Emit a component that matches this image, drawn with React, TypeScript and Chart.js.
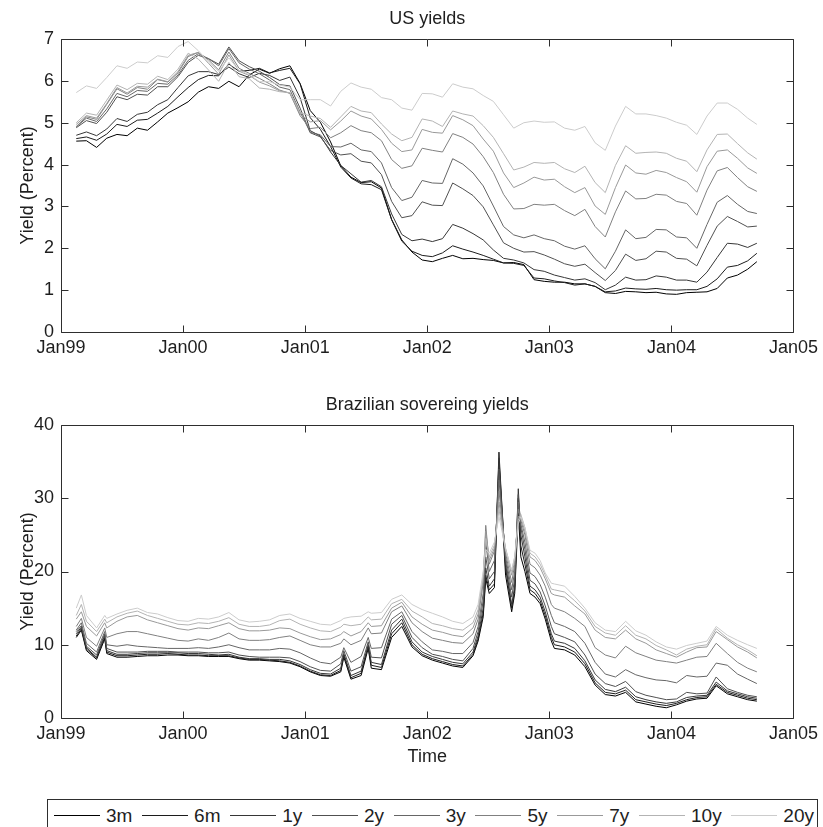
import React, { useEffect, useRef } from 'react';
import { Chart, registerables } from 'chart.js';

Chart.register(...registerables);

// ---------- labels / styling data ----------
const seriesNames = ['3m', '6m', '1y', '2y', '3y', '5y', '7y', '10y', '20y'];
const seriesColors = ['#000000', '#1c1c1c', '#363636', '#505050', '#666666', '#808080', '#999999', '#b3b3b3', '#cccccc'];
const xTickYears = [1999, 2000, 2001, 2002, 2003, 2004, 2005];
const xTickLabels = ['Jan99', 'Jan00', 'Jan01', 'Jan02', 'Jan03', 'Jan04', 'Jan05'];
const usTitle = 'US yields';
const brTitle = 'Brazilian sovereing yields';
const yAxisLabel = 'Yield (Percent)';
const xAxisLabel = 'Time';

// ---------- US yields: mid-month, Feb 1999 .. Sep 2004 (months since Jan 1999) ----------
const usMonths: number[] = [];
for (let m = 1.5; m < 68; m += 1) usMonths.push(m);
usMonths.push(68.4);

const us3m = [4.56, 4.57, 4.41, 4.63, 4.72, 4.69, 4.87, 4.82, 5.02, 5.23, 5.36,
  5.50, 5.73, 5.86, 5.82, 5.99, 5.86, 6.14, 6.28, 6.18, 6.29, 6.36, 5.94,
  5.29, 5.01, 4.54, 3.97, 3.70, 3.57, 3.59, 3.44, 2.69, 2.20, 1.91, 1.72,
  1.68, 1.76, 1.83, 1.75, 1.76, 1.73, 1.71, 1.65, 1.66, 1.61, 1.25, 1.21,
  1.19, 1.19, 1.15, 1.15, 1.09, 0.94, 0.92, 0.97, 0.96, 0.94, 0.95, 0.91,
  0.90, 0.94, 0.95, 0.96, 1.04, 1.29, 1.36, 1.50, 1.68];
const us6m = [4.62, 4.66, 4.58, 4.73, 4.96, 4.91, 5.06, 5.08, 5.23, 5.39, 5.62,
  5.84, 6.03, 6.13, 6.12, 6.40, 6.23, 6.25, 6.30, 6.19, 6.25, 6.30, 5.93,
  5.12, 4.84, 4.43, 3.94, 3.68, 3.54, 3.52, 3.40, 2.68, 2.17, 1.93, 1.83,
  1.80, 1.89, 2.06, 1.98, 1.91, 1.83, 1.74, 1.65, 1.64, 1.59, 1.29, 1.27,
  1.22, 1.18, 1.12, 1.15, 1.09, 0.96, 0.98, 1.05, 1.03, 1.02, 1.04, 1.01,
  1.00, 1.01, 1.01, 1.09, 1.27, 1.55, 1.59, 1.70, 1.88];
const us1y = [4.70, 4.78, 4.69, 4.85, 5.10, 5.03, 5.20, 5.25, 5.43, 5.55, 5.84,
  6.12, 6.22, 6.22, 6.15, 6.33, 6.17, 6.08, 6.18, 6.13, 6.01, 6.09, 5.60,
  4.81, 4.68, 4.30, 3.98, 3.78, 3.58, 3.62, 3.47, 2.82, 2.33, 2.18, 2.22,
  2.16, 2.23, 2.57, 2.48, 2.35, 2.20, 1.96, 1.76, 1.72, 1.65, 1.49, 1.45,
  1.36, 1.30, 1.24, 1.27, 1.18, 1.01, 1.12, 1.31, 1.24, 1.25, 1.34, 1.31,
  1.24, 1.24, 1.19, 1.43, 1.78, 2.12, 2.10, 2.02, 2.12];
const us2y = [4.88, 5.05, 4.98, 5.25, 5.62, 5.55, 5.68, 5.66, 5.86, 5.86, 6.10,
  6.44, 6.61, 6.53, 6.40, 6.81, 6.48, 6.34, 6.23, 6.08, 5.91, 5.88, 5.35,
  4.76, 4.66, 4.34, 4.23, 4.26, 4.08, 4.04, 3.76, 3.12, 2.73, 2.78, 3.11,
  3.03, 3.02, 3.56, 3.42, 3.26, 2.99, 2.56, 2.13, 2.00, 1.91, 1.92, 1.84,
  1.74, 1.63, 1.57, 1.62, 1.42, 1.23, 1.47, 1.86, 1.71, 1.75, 1.93, 1.91,
  1.76, 1.74, 1.58, 2.07, 2.53, 2.76, 2.64, 2.51, 2.53];
const us3y = [4.90, 5.11, 5.03, 5.33, 5.70, 5.62, 5.77, 5.75, 5.94, 5.92, 6.14,
  6.49, 6.65, 6.53, 6.36, 6.77, 6.43, 6.28, 6.17, 6.02, 5.85, 5.79, 5.26,
  4.77, 4.71, 4.43, 4.42, 4.51, 4.35, 4.31, 4.04, 3.45, 3.14, 3.22, 3.62,
  3.56, 3.55, 4.14, 4.01, 3.80, 3.49, 3.01, 2.52, 2.32, 2.25, 2.32, 2.23,
  2.18, 2.05, 1.98, 2.06, 1.75, 1.51, 1.93, 2.44, 2.23, 2.26, 2.45, 2.44,
  2.27, 2.25, 2.00, 2.57, 3.10, 3.26, 3.05, 2.88, 2.83];
const us5y = [4.91, 5.14, 5.08, 5.44, 5.81, 5.68, 5.84, 5.80, 6.03, 5.97, 6.19,
  6.58, 6.68, 6.50, 6.26, 6.69, 6.30, 6.18, 6.06, 5.93, 5.78, 5.70, 5.17,
  4.86, 4.89, 4.64, 4.76, 4.93, 4.81, 4.76, 4.57, 4.12, 3.91, 3.97, 4.39,
  4.34, 4.30, 4.74, 4.65, 4.49, 4.19, 3.81, 3.29, 2.94, 2.95, 3.05, 3.03,
  3.05, 2.90, 2.78, 2.93, 2.52, 2.27, 2.87, 3.37, 3.18, 3.19, 3.29, 3.27,
  3.12, 3.07, 2.79, 3.39, 3.85, 3.93, 3.69, 3.47, 3.36];
const us7y = [4.96, 5.17, 5.11, 5.46, 5.84, 5.71, 5.87, 5.85, 6.04, 5.98, 6.22,
  6.61, 6.68, 6.42, 6.16, 6.62, 6.23, 6.13, 5.97, 5.88, 5.76, 5.71, 5.20,
  5.02, 5.05, 4.83, 5.04, 5.28, 5.16, 5.09, 4.84, 4.51, 4.31, 4.35, 4.84,
  4.77, 4.75, 5.17, 5.07, 4.93, 4.61, 4.32, 3.80, 3.45, 3.56, 3.70, 3.63,
  3.65, 3.47, 3.33, 3.45, 3.01, 2.81, 3.45, 3.99, 3.80, 3.77, 3.86, 3.81,
  3.69, 3.59, 3.34, 3.95, 4.32, 4.35, 4.15, 3.92, 3.79];
const us10y = [5.00, 5.23, 5.18, 5.54, 5.90, 5.79, 5.94, 5.92, 6.11, 6.03, 6.28,
  6.66, 6.52, 6.26, 5.99, 6.44, 6.10, 6.05, 5.83, 5.80, 5.74, 5.72, 5.24,
  5.16, 5.10, 4.89, 5.14, 5.39, 5.28, 5.24, 4.97, 4.73, 4.57, 4.65, 5.09,
  5.04, 4.91, 5.28, 5.21, 5.16, 4.93, 4.65, 4.26, 3.87, 3.94, 4.05, 4.03,
  4.05, 3.90, 3.81, 3.96, 3.57, 3.33, 3.98, 4.45, 4.27, 4.29, 4.30, 4.27,
  4.15, 4.08, 3.83, 4.35, 4.72, 4.73, 4.50, 4.28, 4.13];
const us20y = [5.72, 5.88, 5.82, 6.08, 6.36, 6.30, 6.45, 6.43, 6.60, 6.56, 6.82,
  6.94, 6.72, 6.45, 6.23, 6.55, 6.25, 6.15, 5.98, 5.98, 5.90, 5.85, 5.55,
  5.55, 5.55, 5.40, 5.75, 5.95, 5.85, 5.80, 5.60, 5.55, 5.35, 5.30, 5.70,
  5.69, 5.61, 5.93, 5.85, 5.81, 5.65, 5.51, 5.19, 4.87, 5.00, 5.04, 5.01,
  5.02, 4.87, 4.82, 4.91, 4.52, 4.34, 4.92, 5.39, 5.21, 5.21, 5.17, 5.11,
  5.01, 4.94, 4.72, 5.16, 5.47, 5.47, 5.32, 5.11, 4.96];

// ---------- Brazilian sovereign yields (months since Jan 1999) ----------
const brMonths = [1.5, 2.0, 2.5, 3.5, 4.3, 4.5, 5.5, 6.5, 7.5, 8.5, 9.5, 10.5, 11.5,
  12.5, 13.5, 14.5, 15.5, 16.5, 17.5, 18.5, 19.5, 20.5, 21.5, 22.5, 23.5,
  24.5, 25.5, 26.5, 27.5, 27.8, 28.5, 29.5, 30.2, 30.5, 31.5, 32.5, 33.5, 34.5, 35.5,
  36.5, 37.5, 38.5, 39.5, 40.5, 41.0, 41.5, 41.75, 42.1, 42.6, 43.05, 43.35, 43.7,
  44.3, 44.6, 44.95, 45.2, 45.6, 46.1, 46.6, 47.1, 47.6,
  48.2, 48.5, 49.5, 50.5, 51.5, 52.5, 53.5, 54.5, 55.5, 56.5, 57.5, 58.5, 59.5,
  60.5, 61.5, 62.5, 63.5, 64.4, 65.5, 66.5, 67.5, 68.4];

const br3m = [11.0, 12.0, 9.2, 8.0, 10.8, 8.8, 8.3, 8.3, 8.4, 8.5, 8.5, 8.6, 8.6,
  8.5, 8.5, 8.4, 8.4, 8.4, 8.1, 7.9, 7.9, 7.8, 7.7, 7.5, 7.0,
  6.3, 5.8, 5.7, 6.3, 8.3, 5.3, 5.8, 9.5, 6.8, 6.6, 11.0, 12.5, 9.7, 8.5,
  7.9, 7.5, 7.1, 6.9, 8.5, 10.5, 13.8, 19.0, 17.0, 17.8, 35.0, 28.0, 19.5,
  14.5, 17.0, 28.0, 22.0, 20.0, 17.0, 16.5, 15.6, 13.5,
  10.5, 9.5, 9.3, 8.6, 7.0, 4.5, 3.2, 3.0, 3.5, 2.2, 1.9, 1.6, 1.4,
  1.8, 2.3, 2.6, 2.7, 4.4, 3.3, 2.9, 2.5, 2.3];
const br6m = [11.2, 12.2, 9.4, 8.2, 11.0, 9.0, 8.5, 8.5, 8.6, 8.7, 8.7, 8.8, 8.7,
  8.6, 8.6, 8.5, 8.5, 8.5, 8.2, 8.0, 8.0, 7.9, 7.8, 7.6, 7.1,
  6.4, 5.9, 5.8, 6.5, 8.6, 5.5, 6.1, 9.8, 7.2, 6.9, 11.5, 13.0, 10.0, 8.7,
  8.1, 7.7, 7.3, 7.1, 8.7, 10.8, 14.3, 19.5, 17.5, 18.3, 36.3, 28.8, 20.5,
  15.0, 17.5, 30.0, 23.5, 21.0, 17.5, 17.0, 16.0, 14.0,
  11.0, 10.0, 9.7, 9.0, 7.4, 4.8, 3.5, 3.3, 3.8, 2.5, 2.2, 1.9, 1.7,
  2.0, 2.5, 2.8, 2.9, 4.6, 3.5, 3.1, 2.7, 2.5];
const br1y = [11.5, 12.4, 9.6, 8.3, 11.3, 9.2, 8.7, 8.7, 8.8, 8.9, 8.9, 8.9, 8.9,
  8.8, 8.8, 8.7, 8.6, 8.7, 8.3, 8.1, 8.1, 8.0, 8.0, 7.8, 7.3,
  6.6, 6.1, 6.0, 6.8, 8.8, 5.8, 6.4, 10.0, 7.6, 7.3, 12.0, 13.5, 10.4, 9.0,
  8.4, 8.0, 7.6, 7.4, 9.0, 11.2, 15.0, 20.5, 18.0, 19.0, 35.5, 28.5, 21.0,
  15.5, 18.0, 31.3, 25.0, 22.0, 18.0, 17.5, 16.5, 14.5,
  11.5, 10.5, 10.2, 9.5, 7.8, 5.2, 3.9, 3.6, 4.2, 2.9, 2.5, 2.2, 2.0,
  2.2, 2.8, 3.0, 3.1, 4.9, 3.7, 3.3, 2.9, 2.7];
const br2y = [11.8, 12.6, 9.8, 8.6, 11.5, 9.5, 9.0, 9.0, 9.0, 9.1, 9.1, 9.1, 9.0,
  9.0, 9.0, 8.9, 8.9, 9.0, 8.6, 8.4, 8.3, 8.3, 8.3, 8.2, 7.7,
  7.0, 6.5, 6.4, 7.4, 9.2, 6.4, 7.0, 10.4, 8.3, 8.2, 12.8, 14.0, 11.0, 9.6,
  8.7, 8.4, 8.0, 7.8, 9.5, 11.8, 16.0, 22.0, 19.0, 20.0, 34.0, 28.0, 21.5,
  16.5, 19.0, 30.5, 26.0, 23.0, 18.8, 18.3, 17.2, 15.3,
  12.5, 11.5, 11.0, 10.4, 8.6, 6.0, 4.7, 4.3, 5.0, 3.6, 3.1, 2.8, 2.5,
  2.6, 3.5, 3.3, 3.4, 5.6, 4.0, 3.5, 3.1, 2.9];
const br3y = [12.0, 13.0, 10.2, 9.0, 11.8, 10.0, 9.8, 10.0, 9.8, 9.7, 9.6, 9.5, 9.5,
  9.5, 9.6, 9.5, 9.7, 10.0, 9.6, 9.3, 9.3, 9.3, 9.5, 9.4, 8.9,
  8.2, 7.6, 7.4, 8.3, 9.6, 7.6, 8.4, 11.0, 9.5, 9.6, 13.5, 14.5, 11.8, 10.4,
  9.3, 9.1, 8.8, 8.8, 10.3, 12.5, 17.0, 24.0, 20.0, 21.5, 32.5, 27.5, 22.0,
  17.5, 20.0, 29.5, 26.5, 24.0, 19.8, 19.3, 18.2, 16.5,
  14.0, 13.0, 12.5, 11.8, 10.2, 7.6, 6.0, 5.6, 6.6, 5.9, 5.5, 5.2, 5.1,
  4.8, 5.8, 5.6, 5.7, 7.5, 7.2, 6.0, 5.3, 4.7];
const br5y = [12.5, 13.6, 11.0, 9.8, 12.3, 11.0, 11.5, 11.8, 11.8, 11.5, 11.2, 10.9, 10.6,
  10.5, 10.8, 10.6, 11.0, 11.6, 10.8, 10.6, 10.6, 10.7, 11.0, 11.2, 10.6,
  10.0, 9.7, 9.7, 10.2, 10.8, 10.0, 10.6, 12.3, 11.5, 11.6, 14.5, 15.3, 13.0, 11.8,
  10.9, 10.6, 10.3, 10.2, 11.5, 13.5, 18.5, 26.3, 21.0, 22.8, 31.0, 27.0, 22.5,
  18.5, 21.0, 28.5, 27.0, 25.0, 21.0, 20.5, 19.5, 18.0,
  15.5, 15.0, 14.5, 13.6, 12.5, 9.6, 8.6, 8.2, 9.8, 8.9, 8.4, 7.9, 7.7,
  7.5, 7.9, 8.3, 8.4, 10.2, 8.8, 7.6, 6.8, 6.3];
const br7y = [13.5, 14.5, 12.5, 11.2, 13.0, 12.3, 13.2, 13.8, 14.0, 13.4, 13.0, 12.6, 12.2,
  12.0, 12.3, 12.2, 12.6, 13.0, 12.2, 11.9, 11.9, 12.0, 12.3, 12.2, 11.6,
  11.1, 10.7, 10.8, 11.4, 11.8, 11.2, 11.8, 13.0, 12.5, 12.6, 15.0, 15.8, 13.8, 12.8,
  12.0, 11.7, 11.3, 11.1, 12.3, 14.2, 19.0, 25.5, 21.5, 23.2, 29.5, 26.5, 23.0,
  19.5, 21.5, 27.5, 27.5, 25.5, 22.0, 21.5, 20.5, 19.0,
  17.0, 16.8, 16.5, 15.3, 14.2, 12.0, 11.0, 10.8, 12.0, 10.8, 10.2, 9.3, 8.8,
  8.3, 9.0, 9.6, 9.7, 11.8, 10.7, 9.7, 9.0, 8.2];
const br10y = [14.0, 15.5, 13.2, 11.8, 13.5, 13.0, 13.8, 14.3, 14.6, 14.0, 13.6, 13.2, 12.8,
  12.7, 13.0, 12.9, 13.2, 13.7, 12.8, 12.5, 12.5, 12.7, 13.3, 13.5, 12.8,
  12.3, 11.9, 11.8, 12.4, 12.8, 12.6, 12.8, 13.8, 13.4, 13.5, 15.6, 16.2, 14.6, 13.8,
  12.9, 12.6, 12.2, 12.0, 13.0, 14.8, 19.5, 24.5, 22.0, 23.6, 28.5, 26.0, 23.2,
  20.0, 22.0, 27.0, 27.8, 26.0, 22.5, 22.0, 21.0, 19.5,
  17.6, 17.5, 17.2, 16.0, 14.6, 12.5, 11.6, 11.3, 12.6, 11.3, 10.8, 9.9, 9.3,
  8.6, 9.4, 9.8, 10.0, 12.2, 10.9, 10.0, 9.3, 8.5];
const br20y = [15.0, 16.8, 14.0, 12.3, 14.0, 13.6, 14.2, 14.7, 15.0, 14.4, 14.2, 13.7, 13.3,
  13.2, 13.6, 13.5, 13.8, 14.4, 13.4, 13.1, 13.2, 13.4, 14.0, 14.2, 13.6,
  13.2, 12.8, 12.7, 13.3, 13.6, 13.8, 13.9, 14.5, 14.3, 14.4, 16.2, 16.8, 15.5, 14.8,
  14.3, 13.8, 13.2, 12.9, 13.8, 15.5, 20.0, 23.0, 22.5, 24.0, 27.5, 25.5, 23.0,
  20.2, 22.0, 26.5, 27.5, 26.0, 22.9, 22.5, 21.5, 19.8,
  18.4, 18.3, 18.0, 16.6, 15.0, 13.0, 12.0, 11.8, 13.2, 11.9, 11.3, 10.4, 9.7,
  9.4, 9.9, 10.2, 10.5, 12.5, 11.3, 10.6, 10.0, 9.5];

const usSeries = [us3m, us6m, us1y, us2y, us3y, us5y, us7y, us10y, us20y];
const brSeries = [br3m, br6m, br1y, br2y, br3y, br5y, br7y, br10y, br20y];
const usYTicks = { min: 0, max: 7, step: 1 };
const brYTicks = { min: 0, max: 40, step: 10 };

// ---------- drawing ----------
const FONT = '"Liberation Sans", Arial, Helvetica, sans-serif';
const TEXT = '#1e1e1e';
const FRAME = '#2e2e2e';

const framePlugin = {
  id: 'matlabFrame',
  afterDatasetsDraw(chart: any, _args: any, opts: any) {
    const { ctx, chartArea: a, scales } = chart;
    ctx.save();
    ctx.strokeStyle = FRAME;
    ctx.lineWidth = 1;
    const L = Math.round(a.left) + 0.5, R = Math.round(a.right) + 0.5;
    const T = Math.round(a.top) + 0.5, B = Math.round(a.bottom) + 0.5;
    ctx.beginPath();
    ctx.rect(L, T, R - L, B - T);
    const tl = 7;
    for (const t of scales.x.ticks) {
      const px = Math.round(scales.x.getPixelForValue(t.value)) + 0.5;
      ctx.moveTo(px, T); ctx.lineTo(px, T + tl);
      ctx.moveTo(px, B); ctx.lineTo(px, B - tl);
    }
    for (const t of scales.y.ticks) {
      const py = Math.round(scales.y.getPixelForValue(t.value)) + 0.5;
      ctx.moveTo(L, py); ctx.lineTo(L + tl, py);
      ctx.moveTo(R, py); ctx.lineTo(R - tl, py);
    }
    ctx.stroke();
    ctx.fillStyle = TEXT;
    ctx.font = `18px ${FONT}`;
    ctx.textAlign = 'center';
    ctx.textBaseline = 'middle';
    const cx = (a.left + a.right) / 2;
    if (opts.title) ctx.fillText(opts.title, cx, a.top - 20);
    if (opts.xLabel) ctx.fillText(opts.xLabel, cx, a.bottom + 39);
    if (opts.yLabel) {
      ctx.translate(28, (a.top + a.bottom) / 2);
      ctx.rotate(-Math.PI / 2);
      ctx.fillText(opts.yLabel, 0, 0);
    }
    ctx.restore();
  },
};

function buildConfig(months: number[], series: number[][], yt: { min: number; max: number; step: number }, title: string, xLabel: string, padTop: number, padBottom: number): any {
  const datasets = series.map((vals, i) => ({
    label: seriesNames[i],
    data: vals.map((v, j) => ({ x: 1999 + months[j] / 12, y: v })),
    borderColor: seriesColors[i],
    backgroundColor: seriesColors[i],
    borderWidth: 1,
    pointRadius: 0,
    tension: 0,
    fill: false,
    order: series.length - i,
  }));
  return {
    type: 'line',
    data: { datasets },
    plugins: [framePlugin],
    options: {
      responsive: false,
      animation: false,
      events: [],
      layout: { padding: { top: padTop, right: 28, bottom: padBottom, left: 0 } },
      scales: {
        x: {
          type: 'linear',
          min: 1999,
          max: 2005,
          afterFit: (s: any) => { s.height = 30; },
          afterBuildTicks: (s: any) => { s.ticks = xTickYears.map((v) => ({ value: v })); },
          grid: { display: false, drawTicks: false },
          border: { display: false },
          ticks: {
            autoSkip: false,
            maxRotation: 0,
            padding: 5,
            color: TEXT,
            font: { family: FONT, size: 18 },
            callback: (v: any) => {
              const k = xTickYears.indexOf(Number(v));
              return k >= 0 ? xTickLabels[k] : '';
            },
          },
        },
        y: {
          type: 'linear',
          min: yt.min,
          max: yt.max,
          afterFit: (s: any) => { s.width = 61; },
          grid: { display: false, drawTicks: false },
          border: { display: false },
          ticks: {
            stepSize: yt.step,
            padding: 7,
            color: TEXT,
            font: { family: FONT, size: 18 },
          },
        },
      },
      plugins: {
        legend: { display: false },
        tooltip: { enabled: false },
        matlabFrame: { title, xLabel, yLabel: yAxisLabel },
      },
    },
  };
}

function Panel(props: { top: number; height: number; cfg: () => any }) {
  const ref = useRef<HTMLCanvasElement | null>(null);
  useEffect(() => {
    if (!ref.current) return;
    const chart = new Chart(ref.current, props.cfg());
    return () => chart.destroy();
  }, []);
  return (
    <canvas
      ref={ref}
      width={823}
      height={props.height}
      style={{ position: 'absolute', left: 0, top: props.top, width: 823, height: props.height }}
    />
  );
}

function Legend() {
  return (
    <div
      style={{
        position: 'absolute', left: 47, top: 799, width: 771, height: 45,
        boxSizing: 'border-box', border: `1px solid ${FRAME}`,
        display: 'flex', justifyContent: 'space-between', alignItems: 'center',
        padding: '0 3px 12px 6px', fontFamily: FONT, fontSize: 19, color: TEXT,
      }}
    >
      {seriesNames.map((n, i) => (
        <div key={n} style={{ display: 'flex', alignItems: 'center', height: 22 }}>
          <div style={{ width: 46, height: 0, borderTop: `1px solid ${seriesColors[i]}`, marginRight: 6 }} />
          <span style={{ lineHeight: '22px' }}>{n}</span>
        </div>
      ))}
    </div>
  );
}

export default function App() {
  useEffect(() => {
    document.body.style.margin = '0';
    document.body.style.background = '#ffffff';
  }, []);
  return (
    <div style={{ position: 'relative', width: 823, height: 827, overflow: 'hidden', background: '#fff' }}>
      <Panel top={0} height={365} cfg={() => buildConfig(usMonths, usSeries, usYTicks, usTitle, '', 39, 3)} />
      <Panel top={370} height={400} cfg={() => buildConfig(brMonths, brSeries, brYTicks, brTitle, xAxisLabel, 55, 22)} />
      <Legend />
    </div>
  );
}
